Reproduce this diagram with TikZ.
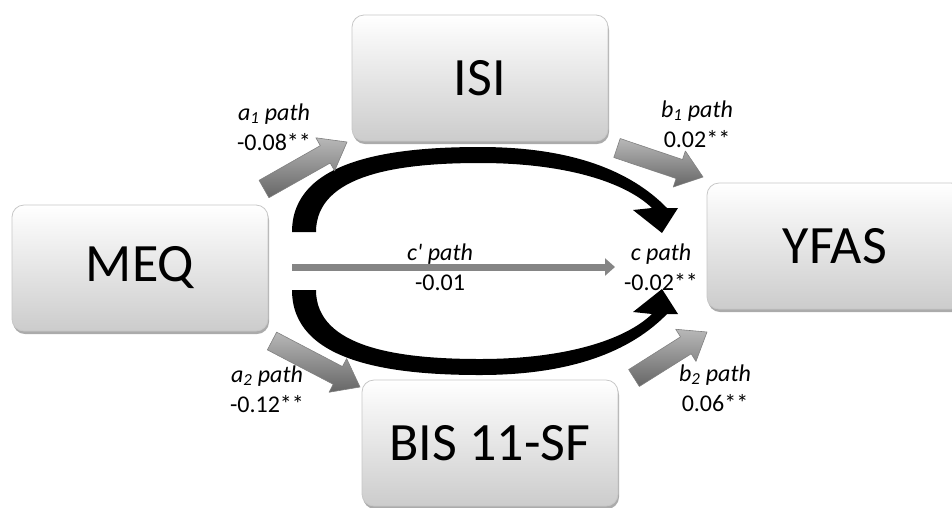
\documentclass[tikz,border=0pt]{standalone}
\usepackage{fontspec}
\setmainfont{Carlito}
\usetikzlibrary{calc,shadows,arrows.meta}
\newcommand{\blockarr}[2]{%
  \coordinate (hb) at ($(#2)!25pt!(#1)$);
  \path[blockarrow] ($(#1)!10pt!90:(#2)$) -- ($(hb)!10pt!-90:(#1)$) -- ($(hb)!19pt!-90:(#1)$) -- (#2) -- ($(hb)!19pt!90:(#1)$) -- ($(hb)!10pt!90:(#1)$) -- ($(#1)!10pt!-90:(#2)$) -- cycle;}
\begin{document}
\begin{tikzpicture}[x=1pt,y=-1pt,
  box/.style={rounded corners=12pt, top color=white, bottom color=black!20, draw=black!22, line width=0.8pt,
    minimum width=256pt, minimum height=126pt, font=\fontsize{54}{60}\selectfont,
    drop shadow={shadow xshift=1pt, shadow yshift=-3pt, fill=black!55, opacity=0.6}},
  lbl/.style={align=center, font=\fontsize{24}{30}\selectfont, inner sep=0pt},
  blockarrow/.style={top color=black!28, bottom color=black!60, draw=black!50, line width=0.6pt, line join=round},
  curvearrow/.style={fill=black},
  straightarrow/.style={draw=black!48, line width=7pt, -{Triangle[length=10pt,width=17pt]}}
]
\path[use as bounding box] (0,0) rectangle (952,507);
\clip (0,0) rectangle (952,507);

% boxes
\node[box] (isi) at (480,78) {ISI};
\node[box] (meq) at (140,268) {MEQ};
\node[box] (yfas) at (835,246) {YFAS};
\node[box] (bis) at (490,443) {BIS 11-SF};

% curved black arrows
\fill[curvearrow] (292,232) .. controls (292,160) and (390,147) .. (480,147)
  .. controls (570,147) and (630,170) .. (667,208) -- (678,208) -- (662,233) -- (633,210) -- (652,208)
  .. controls (625,182) and (565,163) .. (480,163) .. controls (400,163) and (316,174) .. (316,232) -- cycle;
\fill[curvearrow] (292,290) .. controls (292,362) and (390,375) .. (480,375)
  .. controls (570,375) and (630,352) .. (667,314) -- (678,314) -- (662,289) -- (633,312) -- (652,314)
  .. controls (625,340) and (565,359) .. (480,359) .. controls (400,359) and (316,348) .. (316,290) -- cycle;

% straight c' arrow
\coordinate (cs) at (292,267);
\coordinate (ce) at (615,267);
\draw[straightarrow] (cs) -- (ce);

% block arrows
\coordinate (a1t) at (264,189); \coordinate (a1h) at (347,142);
\coordinate (b1t) at (617,148); \coordinate (b1h) at (703,177);
\coordinate (a2t) at (272,341); \coordinate (a2h) at (360,387);
\coordinate (b2t) at (634,378); \coordinate (b2h) at (707,332);
\blockarr{a1t}{a1h}
\blockarr{b1t}{b1h}
\blockarr{a2t}{a2h}
\blockarr{b2t}{b2h}

% labels
\node[lbl] (la1) at (274,127) {\textit{a\textsubscript{1} path}\\-0.08**};
\node[lbl] (lb1) at (697,124) {\textit{b\textsubscript{1} path}\\0.02**};
\node[lbl] (la2) at (267,389) {\textit{a\textsubscript{2} path}\\-0.12**};
\node[lbl] (lb2) at (715,388) {\textit{b\textsubscript{2} path}\\0.06**};
\node[lbl] (lcp) at (440,267) {\textit{c\textquotesingle\ path}\\-0.01};
\node[lbl] (lc) at (661,267) {\textit{c path}\\-0.02**};
\end{tikzpicture}
\end{document}
